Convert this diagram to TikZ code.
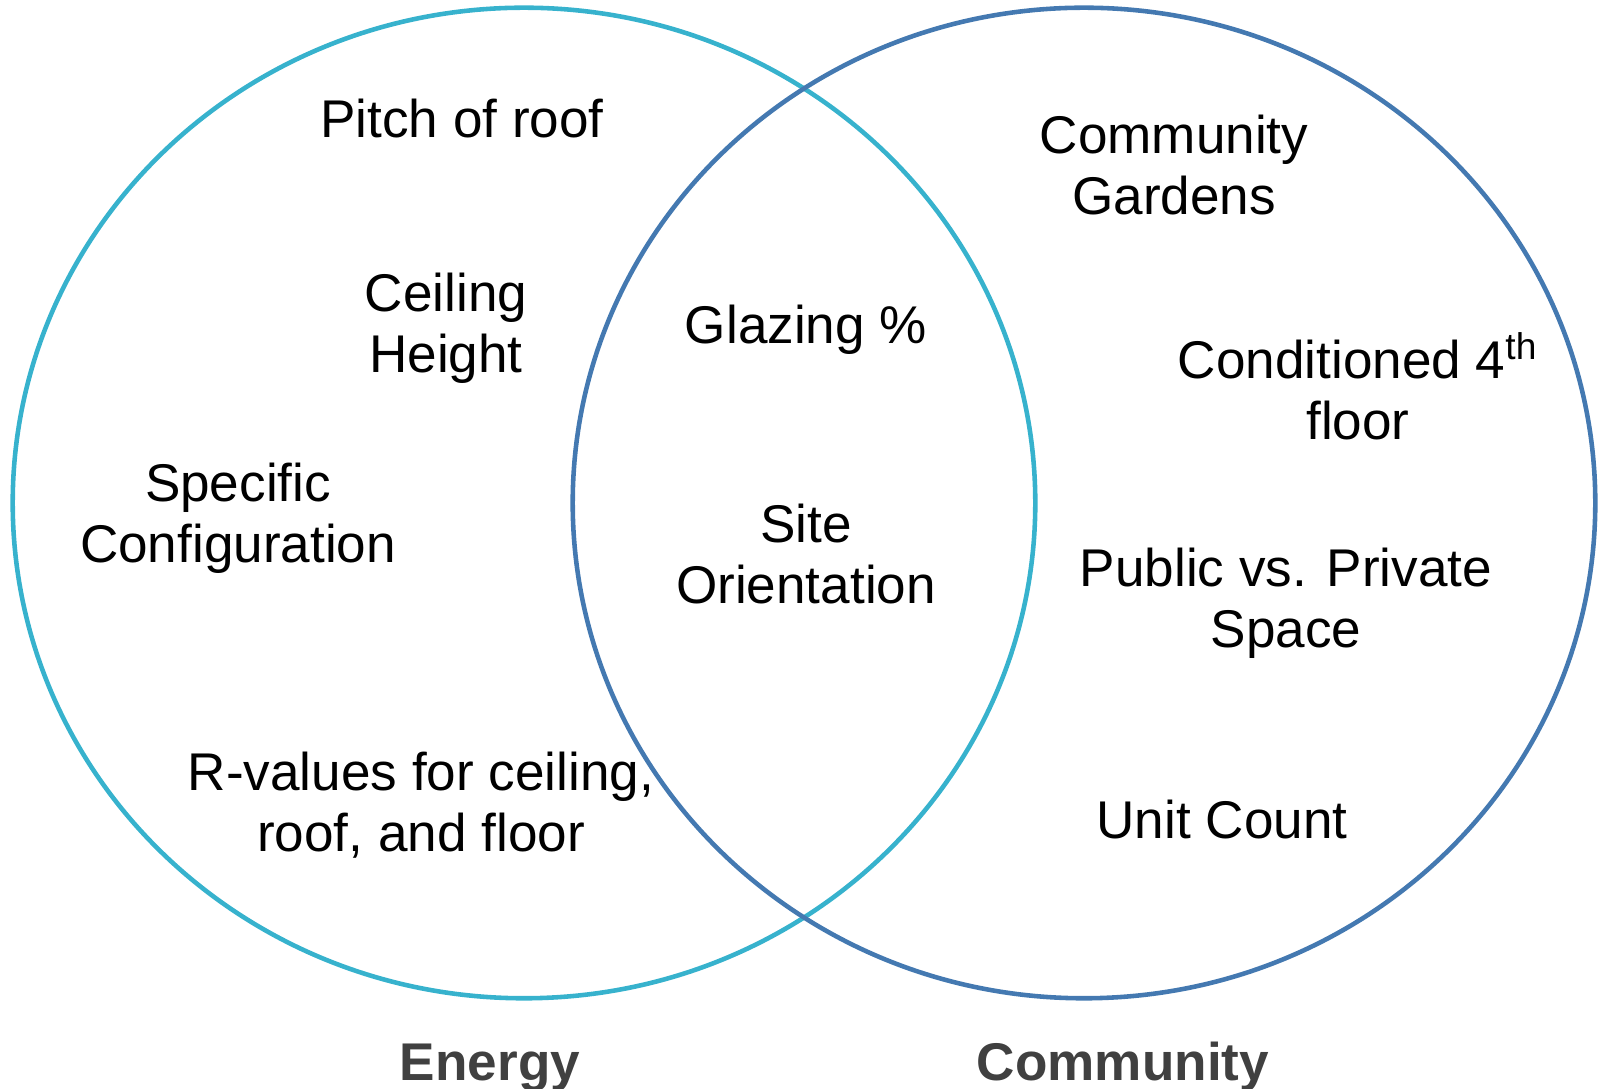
\documentclass[tikz,border=0pt]{standalone}
\usepackage{fontspec}
\setmainfont{Liberation Sans}
\usetikzlibrary{shapes.geometric}
\definecolor{energyblue}{RGB}{55,178,205}
\definecolor{communityblue}{RGB}{68,121,177}
\definecolor{labelgray}{RGB}{64,64,64}

\begin{document}
\begin{tikzpicture}[x=0.01cm, y=-0.01cm,
    set/.style={draw, ellipse, line width=1.3pt, minimum width=10.22cm, minimum height=9.9cm, inner sep=0pt},
    item/.style={align=center, anchor=base, inner sep=0pt, font=\fontsize{15.1pt}{17.6pt}\selectfont},
    setname/.style={anchor=base, inner sep=0pt, text=labelgray, font=\fontsize{15.1pt}{17.6pt}\selectfont\bfseries}]
    \useasboundingbox (0,0) rectangle (1599,1089);

    \node[set, draw=energyblue] (energy) at (524,503) {};
    \node[set, draw=communityblue] (community) at (1084,503) {};

    \node[item] (pitch) at (462,138) {Pitch of roof};
    \node[item] (ceiling) at (446,373) {Ceiling\\Height};
    \node[item] (config) at (238,563) {Specific\\Configuration};
    \node[item] (rvalues) at (421,852) {R-values for ceiling,\\roof, and floor};

    \node[item] (glazing) at (806,344) {Glazing \%};
    \node[item] (site) at (806,604) {Site\\Orientation};

    \node[item] (gardens) at (1174,215) {Community\\Gardens};
    \node[item] (fourth) at (1358,440) {Conditioned 4\textsuperscript{th}\\floor};
    \node[item] (space) at (1286,648) {Public vs. Private\\Space};
    \node[item] (units) at (1222,839) {Unit Count};

    \node[setname] (energyname) at (490,1081) {Energy};
    \node[setname] (communityname) at (1123,1081) {Community};
\end{tikzpicture}
\end{document}
